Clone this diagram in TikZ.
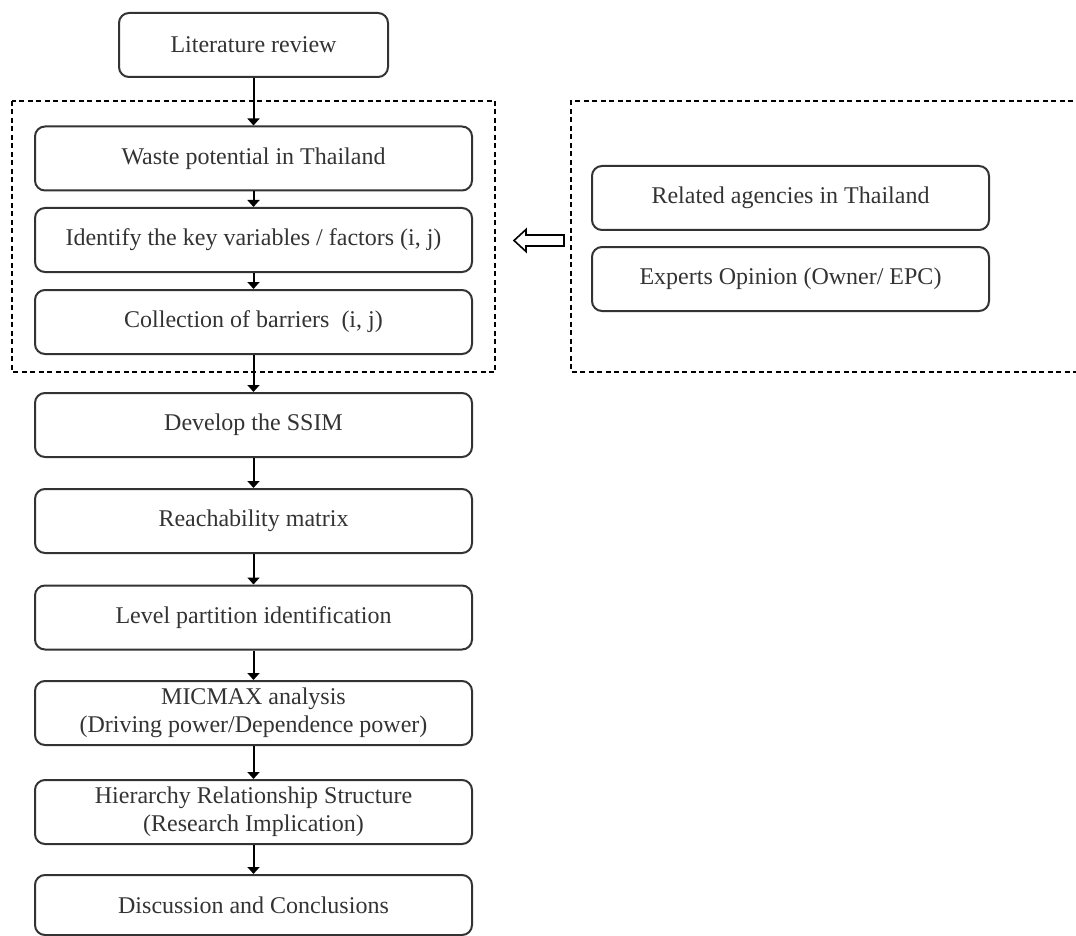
\documentclass[tikz,border=0pt]{standalone}
\usepackage{fontspec}
\setmainfont{Liberation Serif}
\usetikzlibrary{arrows.meta}
\definecolor{txt}{HTML}{333333}
\definecolor{bord}{HTML}{333333}
\tikzset{
  box/.style={draw=bord, line width=2pt, rounded corners=10pt, align=center,
    text=txt, font=\fontsize{24}{28}\selectfont, inner sep=0pt},
  lbox/.style={box, minimum width=437pt, minimum height=64pt},
  rbox/.style={box, minimum width=397pt, minimum height=64pt},
  flow/.style={line width=2pt, -{Triangle[length=7pt,width=12pt]}},
  dbox/.style={draw=black, line width=1.4pt, dash pattern=on 5pt off 3.5pt},
}
\begin{document}
\begin{tikzpicture}[x=1pt,y=-1pt]
\useasboundingbox (0,0) rectangle (1076,936);
% dashed group boxes
\draw[dbox] (12,101) rectangle (495,372);
\begin{scope}
\clip (0,0) rectangle (1076,936);
\draw[dbox] (1090,101) -- (571,101) -- (571,372) -- (1090,372);
\end{scope}
% nodes
\node[box, minimum width=269pt, minimum height=64pt] (lit) at (253.5,45) {Literature review};
\node[lbox] (waste) at (253.5,158.5) {Waste potential in Thailand};
\node[lbox] (ident) at (253.5,240) {Identify the key variables / factors (i, j)};
\node[lbox] (coll) at (253.5,322) {Collection of barriers~~(i, j)};
\node[lbox] (ssim) at (253.5,425) {Develop the SSIM};
\node[lbox] (reach) at (253.5,521) {Reachability matrix};
\node[lbox] (level) at (253.5,617.5) {Level partition identification};
\node[lbox] (mic) at (253.5,713) {\raisebox{-3pt}{MICMAX analysis}\\\raisebox{-3pt}{(Driving power/Dependence power)}};
\node[lbox] (hier) at (253.5,812) {\raisebox{-3pt}{Hierarchy Relationship Structure}\\\raisebox{-3pt}{(Research Implication)}};
\node[lbox, minimum height=60pt] (disc) at (253.5,905) {Discussion and Conclusions};
\node[rbox] (agen) at (790.5,198) {Related agencies in Thailand};
\node[rbox] (exp) at (790.5,279) {Experts Opinion (Owner/ EPC)};
% connectors
\draw[flow] (lit) -- (waste);
\draw[flow] (waste) -- (ident);
\draw[flow] (ident) -- (coll);
\draw[flow] (coll) -- (ssim);
\draw[flow] (ssim) -- (reach);
\draw[flow] (reach) -- (level);
\draw[flow] (level) -- (mic);
\draw[flow] (mic) -- (hier);
\draw[flow] (hier) -- (disc);
% hollow arrow
\coordinate (tip) at (514,240.5);
\draw[line width=1.6pt, line join=miter, fill=white]
  (tip) -- ++(12,-11) -- ++(0,5.5) -- (564,235) -- (564,246) -- (526,246) -- ++(0,5.5) -- cycle;
\end{tikzpicture}
\end{document}
